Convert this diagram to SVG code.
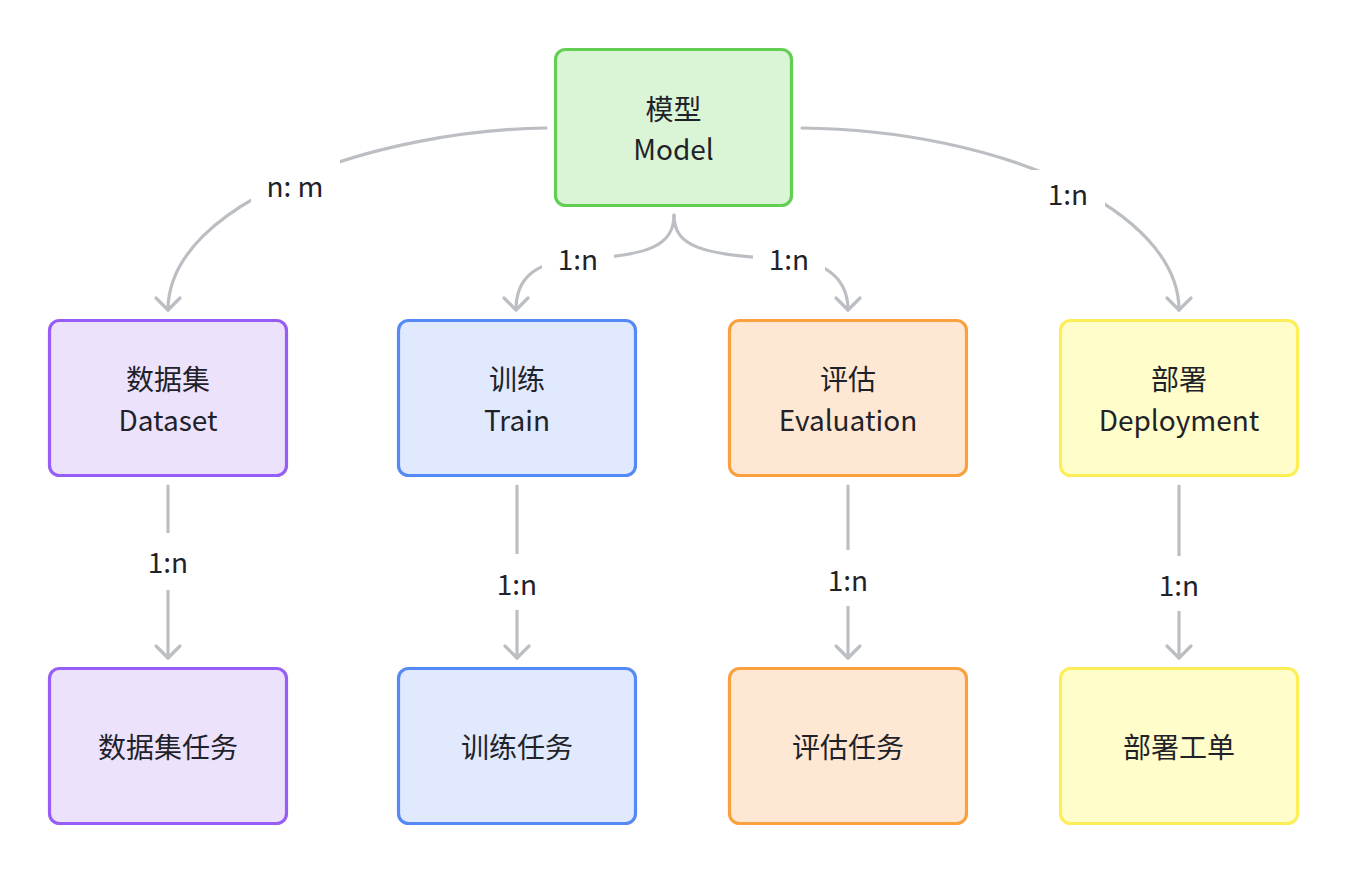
<svg xmlns="http://www.w3.org/2000/svg" width="1348" height="876" viewBox="0 0 1348 876">
<style>
.node rect{stroke-width:3.2}
.t{font-family:"Noto Sans CJK SC","Noto Sans",sans-serif;font-size:28px;fill:#1f2329;text-anchor:middle}
.edge{fill:none;stroke:#bbbec3;stroke-width:3.2;stroke-linecap:round}
.lbg{fill:#ffffff}
.lbl{font-family:"Noto Sans CJK SC","Noto Sans",sans-serif;font-size:28px;fill:#1f2329;text-anchor:middle}
.g rect{fill:#daf4d6;stroke:#62cf52}
.p rect{fill:#ede2fc;stroke:#975ef5}
.b rect{fill:#e0e9fd;stroke:#5589f5}
.o rect{fill:#fee8d3;stroke:#f8a13e}
.y rect{fill:#fffdc9;stroke:#fdee57}
</style>
<defs>
<marker id="arr" markerUnits="userSpaceOnUse" markerWidth="30" markerHeight="30" viewBox="-15 -15 30 30" refX="0" refY="0" orient="auto">
<path d="M -12 -12 L 0 0 L -12 12" fill="none" stroke="#bbbec3" stroke-width="3.2" stroke-linecap="round" stroke-linejoin="round"/>
</marker>
</defs>
<rect width="1348" height="876" fill="#ffffff"/>
<g id="connectors">
<path class="edge" d="M 546 128 C 380 130 168 200 168 310" marker-end="url(#arr)"/>
<path class="edge" d="M 802 128 C 1000 130 1179 210 1179 310" marker-end="url(#arr)"/>
<path class="edge" d="M 674 215 C 674 245 650 256 578 259 C 530 262 516 282 516 310" marker-end="url(#arr)"/>
<path class="edge" d="M 674 215 C 674 245 698 256 789 259 C 830 262 848 282 848 310" marker-end="url(#arr)"/>
<path class="edge" d="M 168 486 L 168 658" marker-end="url(#arr)"/>
<path class="edge" d="M 517 486 L 517 658" marker-end="url(#arr)"/>
<path class="edge" d="M 848 486 L 848 658" marker-end="url(#arr)"/>
<path class="edge" d="M 1179 486 L 1179 658" marker-end="url(#arr)"/>
<rect class="lbg" x="251" y="160" width="89" height="55"/>
<text class="lbl" x="295" y="197">n: m</text>
<rect class="lbg" x="1031" y="170" width="74" height="48"/>
<text class="lbl" x="1068" y="205">1:n</text>
<rect class="lbg" x="542" y="238" width="72" height="44"/>
<text class="lbl" x="578" y="270">1:n</text>
<rect class="lbg" x="753" y="238" width="72" height="44"/>
<text class="lbl" x="789" y="270">1:n</text>
<rect class="lbg" x="138" y="533" width="60" height="57"/>
<text class="lbl" x="168" y="573">1:n</text>
<rect class="lbg" x="487" y="554" width="60" height="56"/>
<text class="lbl" x="517" y="595">1:n</text>
<rect class="lbg" x="818" y="550" width="60" height="56"/>
<text class="lbl" x="848" y="591">1:n</text>
<rect class="lbg" x="1149" y="556" width="60" height="55"/>
<text class="lbl" x="1179" y="596">1:n</text>
</g>
<g id="model" class="node g">
<rect x="555.5" y="49.5" width="236" height="156" rx="10"/>
<text class="t" x="673.5" y="120">模型</text>
<text class="t" x="673.5" y="160">Model</text>
</g>
<g id="dataset" class="node p">
<rect x="49.5" y="320.5" width="237" height="155" rx="10"/>
<text class="t" x="168" y="390">数据集</text>
<text class="t" x="168" y="431">Dataset</text>
</g>
<g id="train" class="node b">
<rect x="398.5" y="320.5" width="237" height="155" rx="10"/>
<text class="t" x="517" y="390">训练</text>
<text class="t" x="517" y="431">Train</text>
</g>
<g id="evaluation" class="node o">
<rect x="729.5" y="320.5" width="237" height="155" rx="10"/>
<text class="t" x="848" y="390">评估</text>
<text class="t" x="848" y="431">Evaluation</text>
</g>
<g id="deployment" class="node y">
<rect x="1060.5" y="320.5" width="237" height="155" rx="10"/>
<text class="t" x="1179" y="390">部署</text>
<text class="t" x="1179" y="431">Deployment</text>
</g>
<g id="dataset-task" class="node p">
<rect x="49.5" y="668.5" width="237" height="155" rx="10"/>
<text class="t" x="168" y="758">数据集任务</text>
</g>
<g id="train-task" class="node b">
<rect x="398.5" y="668.5" width="237" height="155" rx="10"/>
<text class="t" x="517" y="758">训练任务</text>
</g>
<g id="evaluation-task" class="node o">
<rect x="729.5" y="668.5" width="237" height="155" rx="10"/>
<text class="t" x="848" y="758">评估任务</text>
</g>
<g id="deployment-order" class="node y">
<rect x="1060.5" y="668.5" width="237" height="155" rx="10"/>
<text class="t" x="1179" y="758">部署工单</text>
</g>
</svg>
